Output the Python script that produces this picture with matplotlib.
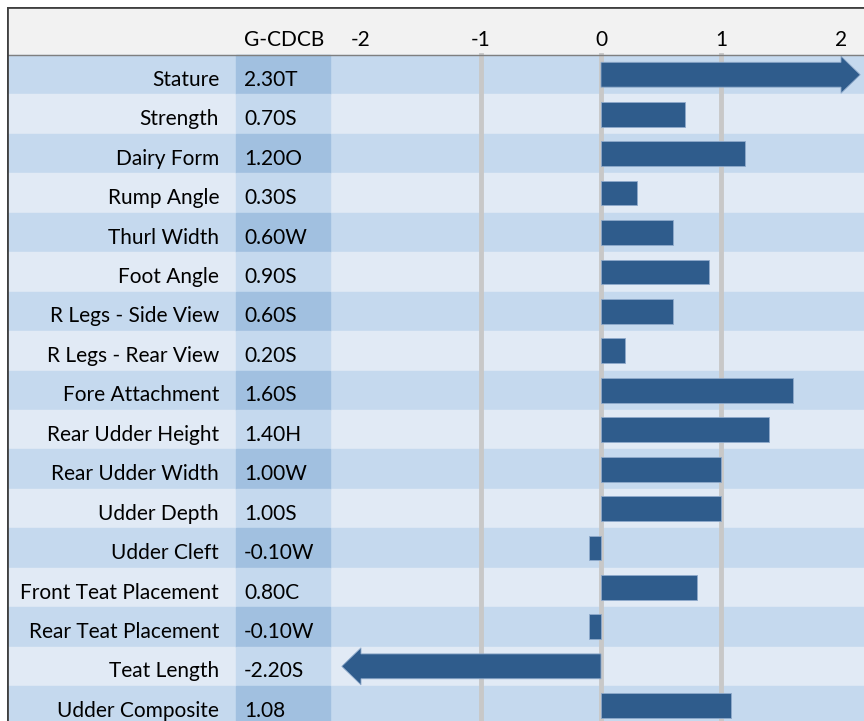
import numpy as np
import matplotlib
matplotlib.use("Agg")
import matplotlib.pyplot as plt
from matplotlib.patches import Rectangle, Polygon

traits = ["Stature", "Strength", "Dairy Form", "Rump Angle", "Thurl Width",
          "Foot Angle", "R Legs - Side View", "R Legs - Rear View",
          "Fore Attachment", "Rear Udder Height", "Rear Udder Width",
          "Udder Depth", "Udder Cleft", "Front Teat Placement",
          "Rear Teat Placement", "Teat Length", "Udder Composite"]
values = [2.30, 0.70, 1.20, 0.30, 0.60, 0.90, 0.60, 0.20, 1.60, 1.40,
          1.00, 1.00, -0.10, 0.80, -0.10, -2.20, 1.08]
labels = ["2.30T", "0.70S", "1.20O", "0.30S", "0.60W", "0.90S", "0.60S",
          "0.20S", "1.60S", "1.40H", "1.00W", "1.00S", "-0.10W", "0.80C",
          "-0.10W", "-2.20S", "1.08"]
ticks = [-2, -1, 0, 1, 2]
gridlines = [-1, 0, 1]
column_title = "G-CDCB"

LIMIT = 2.0       # values beyond this get an arrow
HEAD = 0.16       # arrow head length

plt.rcParams['font.family'] = ['Lato', 'DejaVu Sans']
FS = 15

fig = plt.figure(figsize=(8.64, 7.21), dpi=100)
ax = fig.add_axes([7 / 864, 0, 857 / 864, 714 / 721])
x_left, x_right = -4.95, 2.1917
ax.set_xlim(x_left, x_right)
ax.set_ylim(16.386, -1.717)
ax.axis("off")

row_dark, row_light = "#C5D9EE", "#E1EAF5"
val_dark, val_light = "#A1C0E0", "#C5D9EE"
bar_col = "#2F5C8C"
val_l, val_r = -3.042, -2.258
dy = 0.13  # text sits a bit low in the rows

# header
ax.add_patch(Rectangle((x_left, -1.717), x_right - x_left, 1.217,
                       color="#F2F2F2", zorder=0))
ax.plot([x_left, x_right], [-0.5, -0.5], color="#7F7F7F", lw=1, zorder=5)
ax.plot([x_left, x_right], [-1.717, -1.717], color="#404040", lw=2, zorder=5)
ax.plot([x_left, x_left], [-1.717, 16.386], color="#404040", lw=2, zorder=5)
ax.text(-2.975, -0.88, column_title, ha="left", va="center", fontsize=FS)
for t in ticks:
    ax.text(t, -0.88, str(t), ha="center", va="center", fontsize=FS)

# rows
for i, (name, v, lab) in enumerate(zip(traits, values, labels)):
    odd = i % 2 == 0
    ax.add_patch(Rectangle((x_left, i - 0.5), x_right - x_left, 1,
                           color=row_dark if odd else row_light, zorder=0))
    ax.add_patch(Rectangle((val_l, i - 0.5), val_r - val_l, 1,
                           color=val_dark if odd else val_light, zorder=1))
    ax.text(-3.183, i + dy, name, ha="right", va="center", fontsize=FS)
    ax.text(-2.975, i + dy, lab, ha="left", va="center", fontsize=FS)

for g in gridlines:
    ax.plot([g, g], [-0.5, 16.386], color="#C8C8C8", lw=3.5, zorder=2)

h = 0.63
for i, v in enumerate(values):
    if abs(v) > LIMIT:
        s = np.sign(v)
        end = s * LIMIT
        hh = 0.47
        pts = [(0, i - h / 2), (end, i - h / 2), (end, i - hh),
               (end + s * HEAD, i), (end, i + hh), (end, i + h / 2),
               (0, i + h / 2)]
        ax.add_patch(Polygon(pts, closed=True, facecolor=bar_col,
                             edgecolor="#8FAACB", lw=0.6, zorder=3))
    else:
        ax.barh(i, v, height=h, color=bar_col, edgecolor="#8FAACB",
                lw=0.6, zorder=3)

fig.savefig("out.png", dpi=100)
